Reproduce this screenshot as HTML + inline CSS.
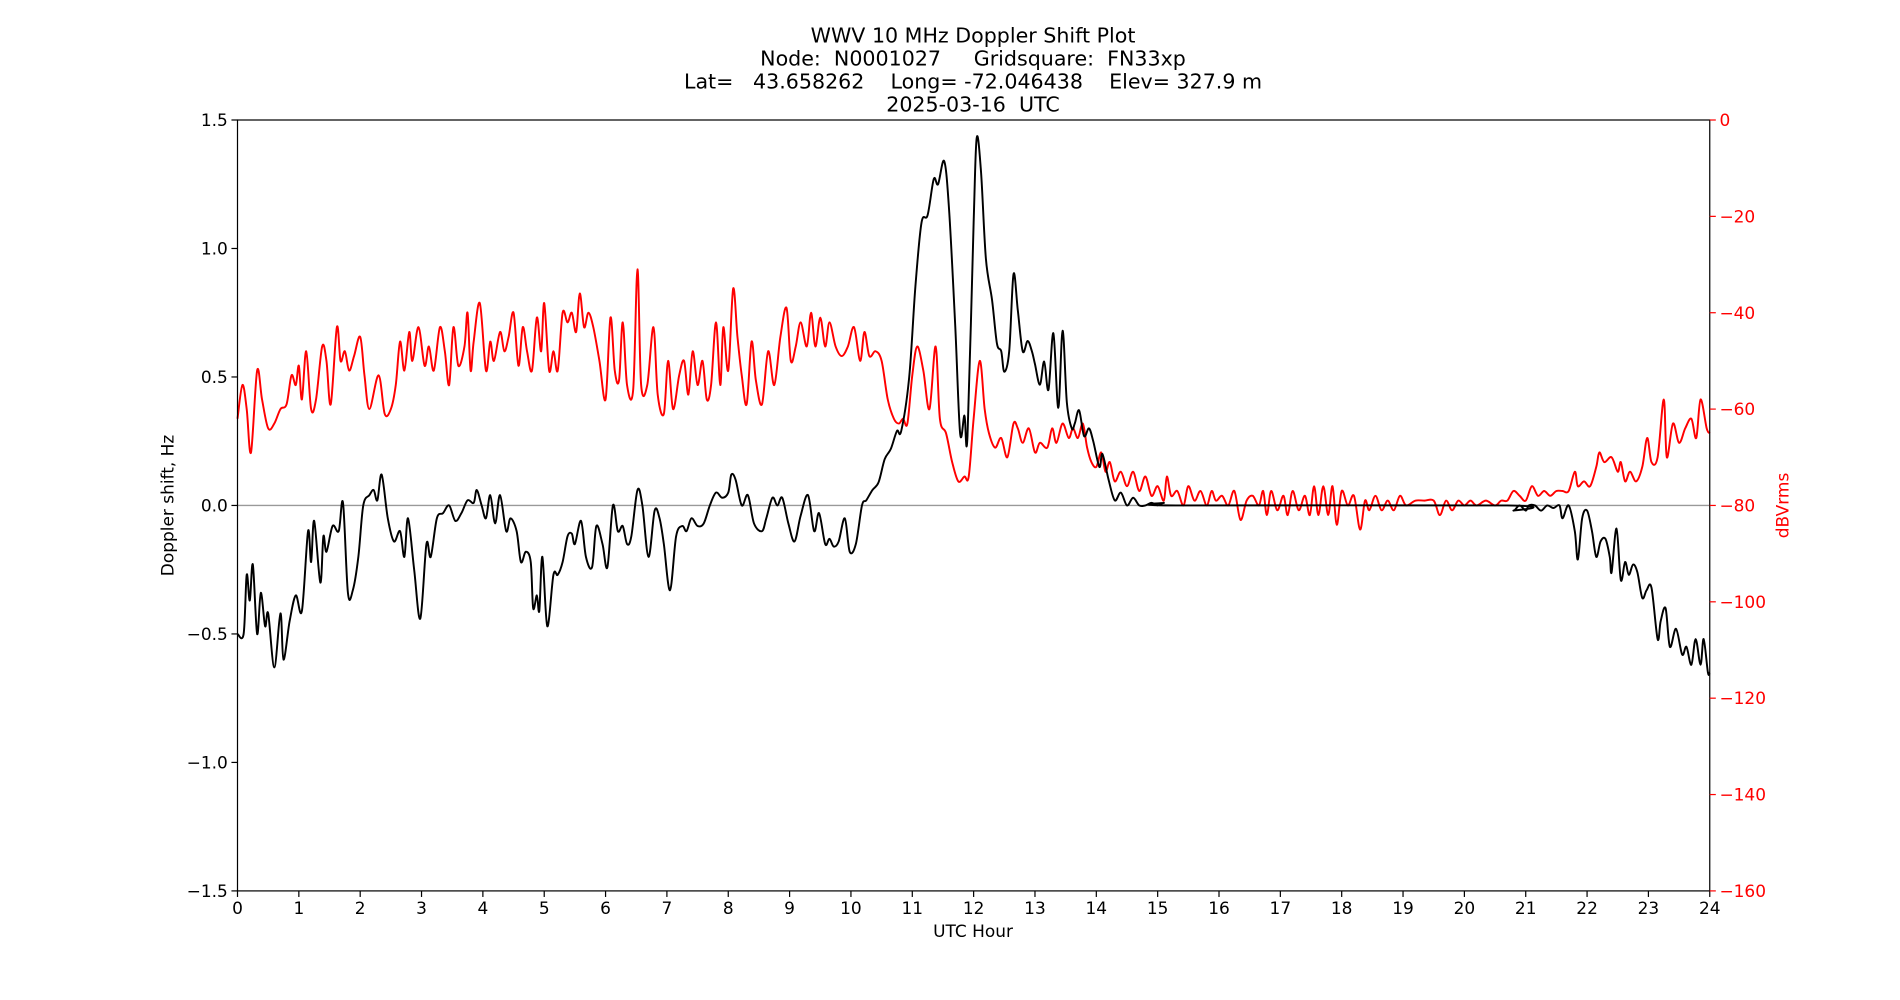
<!DOCTYPE html>
<html><head><meta charset="utf-8"><style>
html,body{margin:0;padding:0;background:#fff;width:1900px;height:1000px;overflow:hidden}
svg{display:block;font-family:"DejaVu Sans","Liberation Sans",sans-serif}
</style></head><body>
<svg id="chart" width="1900" height="1000" viewBox="0 0 1568 825" preserveAspectRatio="none" xmlns="http://www.w3.org/2000/svg">
<g font-size="17" text-anchor="middle" fill="#000" xml:space="preserve">
<text x="803" y="35">WWV 10 MHz Doppler Shift Plot</text>
<text x="803" y="54" xml:space="preserve">Node:  N0001027     Gridsquare:  FN33xp</text>
<text x="803" y="73" xml:space="preserve">Lat=   43.658262    Long= -72.046438    Elev= 327.9 m</text>
<text x="803" y="92" xml:space="preserve">2025-03-16  UTC</text>
</g>
<g id="plot"></g>
</svg>
<script>
const hourTicks=[0,1,2,3,4,5,6,7,8,9,10,11,12,13,14,15,16,17,18,19,20,21,22,23,24];
const leftTicks=[1.5,1.0,0.5,0.0,-0.5,-1.0,-1.5];
const leftTickLabels=["1.5","1.0","0.5","0.0","\u22120.5","\u22121.0","\u22121.5"];
const rightTicks=[0,-20,-40,-60,-80,-100,-120,-140,-160];
const rightTickLabels=["0","\u221220","\u221240","\u221260","\u221280","\u2212100","\u2212120","\u2212140","\u2212160"];
const dopHours=[0,0.1,0.15,0.2,0.25,0.32,0.38,0.45,0.5,0.6,0.7,0.75,0.85,0.95,1.05,1.15,1.2,1.25,1.35,1.4,1.45,1.55,1.65,1.72,1.8,1.88,1.97,2.05,2.15,2.22,2.28,2.35,2.45,2.55,2.65,2.72,2.78,2.88,2.98,3.08,3.15,3.25,3.35,3.45,3.55,3.65,3.75,3.85,3.9,3.98,4.05,4.12,4.2,4.28,4.38,4.45,4.55,4.62,4.7,4.78,4.82,4.88,4.92,4.97,5.05,5.15,5.22,5.3,5.38,5.45,5.5,5.6,5.68,5.78,5.85,5.95,6.03,6.12,6.2,6.28,6.35,6.42,6.52,6.6,6.7,6.8,6.88,6.95,7.05,7.15,7.25,7.32,7.4,7.5,7.6,7.7,7.8,7.9,8.0,8.05,8.12,8.22,8.32,8.42,8.55,8.62,8.72,8.8,8.88,8.98,9.08,9.18,9.3,9.4,9.48,9.58,9.65,9.72,9.8,9.9,9.98,10.08,10.18,10.25,10.35,10.45,10.55,10.65,10.75,10.82,10.95,11.05,11.15,11.25,11.35,11.42,11.52,11.6,11.7,11.78,11.85,11.9,12.0,12.05,12.12,12.2,12.3,12.38,12.45,12.5,12.58,12.65,12.72,12.8,12.88,12.95,13.0,13.08,13.15,13.22,13.3,13.38,13.45,13.52,13.6,13.65,13.72,13.8,13.88,13.95,14.05,14.1,14.2,14.3,14.4,14.5,14.6,14.7,14.8,14.9,15.0,15.1,15.3,20.7,20.8,20.9,21.0,21.05,21.15,21.25,21.35,21.45,21.55,21.6,21.7,21.8,21.85,21.92,22.0,22.08,22.15,22.22,22.3,22.37,22.4,22.48,22.55,22.62,22.68,22.75,22.82,22.9,22.97,23.05,23.15,23.2,23.28,23.35,23.45,23.55,23.62,23.7,23.77,23.85,23.9,23.97,24];
const dopValues=[-0.5,-0.5,-0.27,-0.37,-0.23,-0.5,-0.34,-0.47,-0.42,-0.63,-0.42,-0.6,-0.45,-0.35,-0.41,-0.1,-0.22,-0.06,-0.3,-0.12,-0.18,-0.08,-0.1,0.01,-0.34,-0.33,-0.2,0,0.04,0.06,0.02,0.12,-0.05,-0.14,-0.1,-0.2,-0.05,-0.25,-0.44,-0.15,-0.2,-0.05,-0.03,0,-0.06,-0.03,0.02,0.01,0.06,0,-0.05,0.04,-0.07,0.04,-0.1,-0.05,-0.1,-0.22,-0.18,-0.22,-0.4,-0.35,-0.41,-0.2,-0.47,-0.27,-0.27,-0.22,-0.12,-0.11,-0.15,-0.06,-0.2,-0.24,-0.08,-0.15,-0.24,0,-0.1,-0.08,-0.15,-0.12,0.06,0,-0.2,-0.02,-0.05,-0.15,-0.33,-0.12,-0.08,-0.1,-0.05,-0.08,-0.07,0,0.05,0.03,0.05,0.12,0.1,0,0.04,-0.07,-0.1,-0.05,0.03,0,0.03,-0.07,-0.14,-0.04,0.04,-0.1,-0.03,-0.15,-0.13,-0.16,-0.14,-0.05,-0.18,-0.15,0,0.02,0.06,0.09,0.18,0.22,0.29,0.29,0.5,0.85,1.1,1.13,1.27,1.25,1.34,1.15,0.7,0.28,0.35,0.27,1.1,1.43,1.3,0.96,0.8,0.63,0.6,0.52,0.6,0.9,0.76,0.6,0.64,0.6,0.55,0.47,0.56,0.45,0.67,0.38,0.68,0.4,0.3,0.32,0.37,0.27,0.3,0.25,0.15,0.2,0.1,0.02,0.05,0,0.03,0,0,0.01,0,0.01,0,0,-0.02,0,-0.02,0,0,-0.02,0,-0.01,0,-0.05,0,-0.1,-0.21,-0.05,-0.02,-0.1,-0.2,-0.14,-0.13,-0.2,-0.26,-0.09,-0.29,-0.22,-0.27,-0.23,-0.26,-0.36,-0.33,-0.32,-0.52,-0.45,-0.4,-0.55,-0.48,-0.58,-0.55,-0.62,-0.52,-0.62,-0.52,-0.65,-0.65];
const pwrHours=[0,0.08,0.15,0.22,0.32,0.4,0.5,0.6,0.7,0.8,0.88,0.95,1.0,1.05,1.12,1.2,1.28,1.38,1.45,1.52,1.62,1.68,1.75,1.82,1.9,2.0,2.07,2.15,2.3,2.4,2.5,2.58,2.65,2.72,2.8,2.85,2.95,3.05,3.12,3.2,3.3,3.38,3.45,3.52,3.6,3.7,3.75,3.8,3.85,3.95,4.05,4.12,4.18,4.28,4.35,4.42,4.5,4.58,4.65,4.72,4.8,4.88,4.95,5.0,5.08,5.15,5.22,5.3,5.38,5.45,5.52,5.58,5.65,5.72,5.8,5.9,6.0,6.08,6.15,6.22,6.28,6.35,6.45,6.52,6.58,6.68,6.78,6.85,6.95,7.02,7.1,7.2,7.28,7.35,7.42,7.5,7.58,7.65,7.72,7.8,7.87,7.92,8.0,8.08,8.15,8.22,8.3,8.38,8.45,8.55,8.65,8.75,8.85,8.95,9.02,9.1,9.18,9.28,9.35,9.42,9.5,9.58,9.65,9.75,9.85,9.95,10.05,10.15,10.22,10.3,10.4,10.5,10.6,10.7,10.78,10.85,10.92,11.0,11.08,11.18,11.28,11.38,11.45,11.55,11.65,11.75,11.85,11.92,12.0,12.1,12.18,12.25,12.35,12.45,12.55,12.65,12.72,12.8,12.9,13.0,13.08,13.2,13.28,13.35,13.45,13.55,13.62,13.7,13.78,13.85,13.92,14.0,14.08,14.15,14.22,14.3,14.4,14.5,14.6,14.7,14.8,14.9,15.0,15.1,15.15,15.22,15.32,15.42,15.5,15.6,15.7,15.8,15.88,15.95,16.05,16.15,16.25,16.35,16.45,16.55,16.65,16.72,16.78,16.85,16.95,17.05,17.12,17.2,17.3,17.4,17.48,17.55,17.62,17.7,17.78,17.85,17.92,18.0,18.1,18.2,18.3,18.38,18.45,18.55,18.65,18.75,18.85,18.95,19.05,19.2,19.35,19.5,19.6,19.7,19.8,19.9,20.0,20.1,20.2,20.35,20.5,20.6,20.7,20.8,20.9,21.0,21.1,21.2,21.3,21.4,21.5,21.6,21.7,21.8,21.85,21.95,22.05,22.15,22.2,22.28,22.4,22.5,22.55,22.62,22.7,22.8,22.9,22.98,23.05,23.15,23.25,23.3,23.4,23.5,23.6,23.7,23.78,23.85,23.95,24];
const pwrValues=[-62,-55,-60,-69,-52,-58,-64,-63,-60,-59,-53,-55,-51,-58,-48,-60,-58,-47,-50,-59,-43,-50,-48,-52,-49,-45,-53,-60,-53,-61,-60,-55,-46,-52,-44,-50,-43,-51,-47,-52,-43,-48,-55,-43,-51,-47,-40,-52,-46,-38,-52,-46,-50,-44,-48,-45,-40,-51,-43,-48,-52,-41,-48,-38,-52,-48,-52,-40,-42,-40,-44,-36,-43,-40,-43,-50,-58,-41,-52,-54,-42,-55,-56,-31,-55,-55,-43,-57,-61,-50,-60,-53,-50,-57,-48,-55,-50,-58,-55,-42,-55,-43,-52,-35,-45,-53,-59,-46,-54,-59,-48,-55,-45,-39,-50,-47,-42,-47,-40,-47,-41,-47,-42,-47,-49,-47,-43,-50,-44,-49,-48,-50,-58,-62,-63,-62,-63,-53,-47,-52,-60,-47,-62,-65,-71,-75,-74,-74,-62,-50,-60,-65,-68,-66,-70,-63,-64,-67,-64,-69,-67,-68,-64,-67,-63,-66,-64,-66,-63,-68,-71,-72,-69,-73,-71,-75,-73,-76,-73,-77,-74,-78,-76,-79,-74,-78,-77,-80,-76,-79,-77,-80,-77,-79,-78,-80,-77,-83,-79,-78,-80,-77,-82,-77,-81,-78,-82,-77,-81,-78,-82,-76,-82,-76,-82,-76,-84,-77,-80,-78,-85,-79,-81,-78,-81,-79,-81,-78,-80,-79,-79,-79,-82,-79,-81,-79,-80,-79,-80,-79,-80,-79,-79,-77,-78,-79,-76,-78,-77,-78,-77,-77,-77,-73,-76,-75,-76,-72,-69,-71,-70,-73,-71,-75,-73,-75,-72,-66,-71,-70,-58,-70,-63,-67,-64,-62,-66,-58,-64,-65];

const NS='http://www.w3.org/2000/svg';
const plot=document.getElementById('plot');
const X0=196,X1=1411,Y0=99,Y1=735;
const xs=h=>X0+(h/24)*(X1-X0);
const yl=v=>Y0+(1.5-v)/3*(Y1-Y0);
const yr=v=>Y0+(0-v)/160*(Y1-Y0);
function mk(tag,attrs,parent){const e=document.createElementNS(NS,tag);for(const k in attrs)e.setAttribute(k,attrs[k]);(parent||plot).appendChild(e);return e;}

const z=mk('line',{x1:X0,x2:X1,y1:yl(0),y2:yl(0),stroke:'#999','stroke-width':1.2});



function series(hs,vs,yf,color,name){
  const P=hs.map((h,i)=>[xs(h),yf(vs[i])]);
  let d='M'+P[0][0].toFixed(2)+' '+P[0][1].toFixed(2);
  for(let i=0;i<P.length-1;i++){
    const p0=P[Math.max(0,i-1)],p1=P[i],p2=P[i+1],p3=P[Math.min(P.length-1,i+2)];
    const c1=[p1[0]+(p2[0]-p0[0])/6,p1[1]+(p2[1]-p0[1])/6];
    const c2=[p2[0]-(p3[0]-p1[0])/6,p2[1]-(p3[1]-p1[1])/6];
    d+='C'+c1[0].toFixed(2)+' '+c1[1].toFixed(2)+' '+c2[0].toFixed(2)+' '+c2[1].toFixed(2)+' '+p2[0].toFixed(2)+' '+p2[1].toFixed(2);
  }
  const p=mk('path',{d:d,fill:'none',stroke:color,'stroke-width':1.6,'stroke-linejoin':'round'});
  
  
}
series(pwrHours,pwrValues,yr,'#ff0000','power-series');
series(dopHours,dopValues,yl,'#000000','doppler-series');

const frame=mk('rect',{x:X0,y:Y0,width:X1-X0,height:Y1-Y0,fill:'none',stroke:'#000','stroke-width':1});



hourTicks.forEach(h=>{
  mk('line',{x1:xs(h),x2:xs(h),y1:Y1,y2:Y1+5,stroke:'#000'});
  const t=mk('text',{x:xs(h),y:Y1+19,'font-size':14,'text-anchor':'middle'});t.textContent=h;
  
  
});
leftTicks.forEach((v,i)=>{
  mk('line',{x1:X0-5,x2:X0,y1:yl(v),y2:yl(v),stroke:'#000'});
  const t=mk('text',{x:X0-8,y:yl(v)+5,'font-size':14,'text-anchor':'end'});t.textContent=leftTickLabels[i];
  
  
});
rightTicks.forEach((v,i)=>{
  mk('line',{x1:X1,x2:X1+5,y1:yr(v),y2:yr(v),stroke:'#ff0000'});
  const t=mk('text',{x:X1+8,y:yr(v)+5,'font-size':14,'text-anchor':'start',fill:'#ff0000'});t.textContent=rightTickLabels[i];
  
  
});
const xt=mk('text',{x:803,y:773,'font-size':14,'text-anchor':'middle'});xt.textContent='UTC Hour';


const ylt=mk('text',{x:0,y:0,'font-size':14,'text-anchor':'middle',transform:'translate(143,417) rotate(-90)'});ylt.textContent='Doppler shift, Hz';


const yrt=mk('text',{x:0,y:0,'font-size':14,'text-anchor':'middle',fill:'#ff0000',transform:'translate(1476,417) rotate(-90)'});yrt.textContent='dBVrms';


</script>
</body></html>
